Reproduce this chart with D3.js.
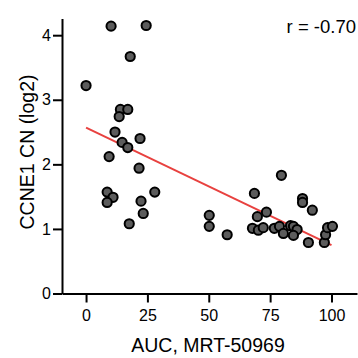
<!DOCTYPE html>
<html><head><meta charset="utf-8">
<script src="https://cdn.jsdelivr.net/npm/d3@7/dist/d3.min.js"></script>
<style>body{margin:0;background:#fff}svg{display:block}text{font-family:"Liberation Sans",Arial,sans-serif;fill:#000}</style>
</head><body><svg id="c" width="358" height="358"></svg>
<script>
const auc = [0,10.2,24.5,18,14,17,13.5,11.8,14.7,17,22,9.4,21.6,8.6,11,8.6,28,22.4,23.3,17.6,50.2,50.2,57.5,79.6,68.6,69.8,73.5,67.8,70.2,72.2,76.7,78.8,80.4,83.3,84.5,86,84.5,88.2,88.2,92.2,90.6,97.1,97.6,98.4,100.4];
const ccne1 = [3.22,4.14,4.15,3.67,2.85,2.85,2.74,2.5,2.34,2.26,2.4,2.12,1.94,1.57,1.49,1.41,1.57,1.43,1.24,1.08,1.21,1.04,0.91,1.83,1.55,1.19,1.26,1.01,0.98,1.02,1.01,1.04,0.93,1.05,1.04,0.99,0.9,1.47,1.41,1.29,0.79,0.79,0.91,1.02,1.04];
const fitX = [0,100];
const fitY = [2.57,0.75];
const xTicks = [0,25,50,75,100];
const yTicks = [0,1,2,3,4];
const xTitle = "AUC, MRT-50969";
const yTitle = "CCNE1 CN (log2)";
const rLabel = "r = -0.70";

const svg = d3.select("#c");
const x = d3.scaleLinear().domain([-9.8,110.4]).range([62,357]);
const y = d3.scaleLinear().domain([0,4.26]).range([293.5,18.4]);

const gx = svg.append("g").attr("transform","translate(0,293.5)")
  .call(d3.axisBottom(x).tickValues(xTicks).tickFormat(d3.format("d")).tickSize(9).tickPadding(4).tickSizeOuter(0));
const gy = svg.append("g").attr("transform","translate(62,0)")
  .call(d3.axisLeft(y).tickValues(yTicks).tickFormat(d3.format("d")).tickSize(9).tickPadding(2).tickSizeOuter(0));
[gx,gy].forEach(g=>{
  g.select(".domain").attr("stroke","#000").attr("stroke-width",2);
  g.selectAll(".tick line").attr("stroke","#000").attr("stroke-width",2);
  g.selectAll(".tick text").attr("font-size",16).attr("font-family","Liberation Sans, Arial, sans-serif").attr("fill","#000");
});
gx.selectAll(".tick text").attr("dy","0.9em");

svg.append("line")
  .attr("x1",x(fitX[0])).attr("y1",y(fitY[0]))
  .attr("x2",x(fitX[1])).attr("y2",y(fitY[1]))
  .attr("stroke","#e8413f").attr("stroke-width",2);

svg.append("g").selectAll("circle").data(auc.map((a,i)=>[a,ccne1[i]])).join("circle")
  .attr("cx",d=>x(d[0])).attr("cy",d=>y(d[1])).attr("r",4.6)
  .attr("fill","#5c5c5c").attr("stroke","#000").attr("stroke-width",2);

svg.append("text").attr("x",208).attr("y",352).attr("text-anchor","middle").attr("font-size",19.5).text(xTitle);
svg.append("text").attr("transform","translate(34,152) rotate(-90)").attr("text-anchor","middle").attr("font-size",19.5).text(yTitle);
svg.append("text").attr("x",356).attr("y",33).attr("text-anchor","end").attr("font-size",18.5).text(rLabel);
</script></body></html>
